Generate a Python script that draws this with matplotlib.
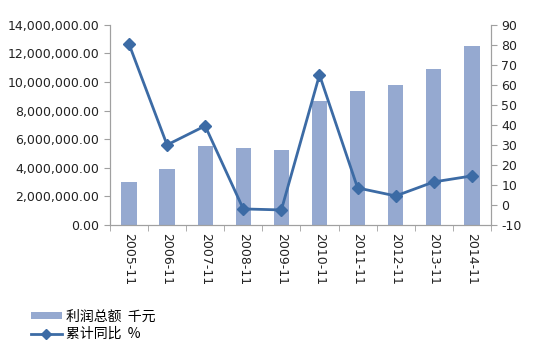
import numpy as np
import matplotlib.pyplot as plt
from matplotlib.ticker import FuncFormatter

plt.rcParams['font.family'] = ['Noto Sans CJK SC', 'DejaVu Sans']
plt.rcParams['axes.unicode_minus'] = False

months = ["2005-11", "2006-11", "2007-11", "2008-11", "2009-11",
          "2010-11", "2011-11", "2012-11", "2013-11", "2014-11"]
profit = [3010000, 3920000, 5530000, 5390000, 5250000,
          8680000, 9380000, 9800000, 10920000, 12530000]
yoy = [80.5, 30.0, 39.5, -2.0, -2.5, 65.0, 8.5, 4.5, 11.5, 14.5]

bar_color = "#95A9D0"
line_color = "#3C6BA5"
axis_gray = "#A0A0A0"
x = np.arange(len(months))

fig = plt.figure(figsize=(5.36, 3.45), dpi=100)
ax = fig.add_axes([0.205, 0.348, 0.711, 0.58])
ax2 = ax.twinx()

bars = ax.bar(x, profit, width=0.4, color=bar_color, label="利润总额  千元")
line, = ax2.plot(x, yoy, color=line_color, lw=2, marker="D", ms=6,
                 label="累计同比  %")

ax.set_xlim(-0.5, len(months) - 0.5)
ax.set_ylim(0, 14000000)
ax.set_yticks(np.arange(0, 14000001, 2000000))
ax.yaxis.set_major_formatter(FuncFormatter(lambda v, p: f"{v:,.2f}"))
ax2.set_ylim(-10, 90)
ax2.set_yticks(np.arange(-10, 91, 10))

ax.set_xticks(x)
ax.set_xticklabels(months, rotation=-90, family="DejaVu Sans")
ax.set_xticks(np.arange(-0.5, len(months), 1), minor=True)
ax.tick_params(axis="x", which="major", length=0, pad=6)
ax.tick_params(axis="x", which="minor", length=4, color=axis_gray)

for a in (ax, ax2):
    a.spines["top"].set_visible(False)
    for s in ("left", "right", "bottom"):
        a.spines[s].set_color(axis_gray)
    a.tick_params(axis="y", length=4, color=axis_gray, labelsize=9,
                  labelcolor="#222222")
    for lab in a.get_yticklabels():
        lab.set_family("DejaVu Sans")
ax.tick_params(axis="x", labelsize=9, labelcolor="#222222")

# legend under the chart, handles on the far left
leg_line = plt.Line2D([], [], color=line_color, lw=2, marker="D", ms=5)
fig.legend(handles=[bars, leg_line], labels=["利润总额  千元", "累计同比  %"],
           loc="upper left", bbox_to_anchor=(0.058, 0.103), frameon=False,
           fontsize=10, handlelength=2.2, handleheight=0.4,
           handletextpad=0.3, labelspacing=0.25, borderpad=0,
           borderaxespad=0)

fig.savefig("out.png", dpi=100)
